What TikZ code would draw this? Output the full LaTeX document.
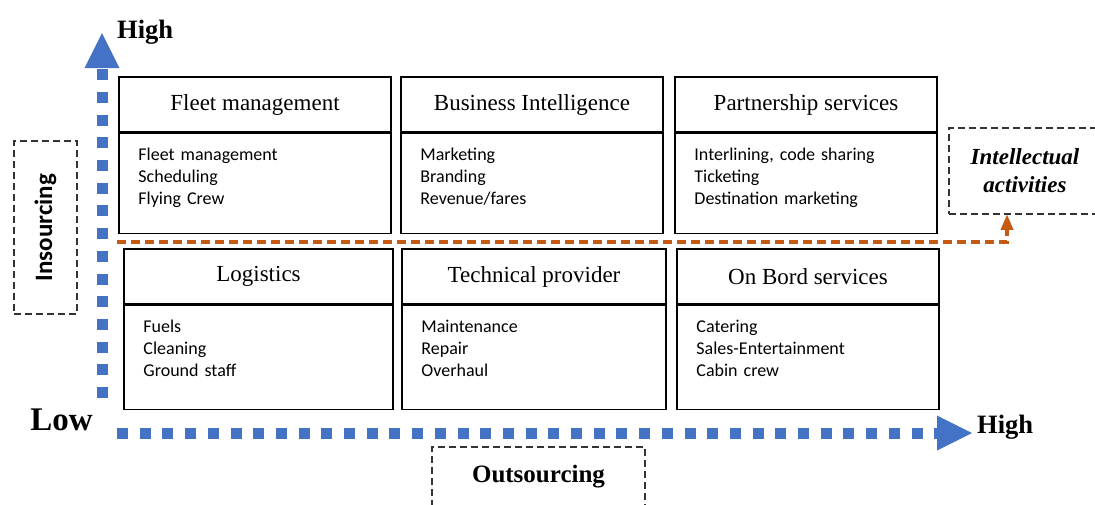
\documentclass[tikz,border=0pt]{standalone}
\usepackage{fontspec}
\usepackage{graphicx}
\setmainfont{Liberation Serif}
\newfontfamily\listfont{Carlito}
\usetikzlibrary{arrows.meta}

\definecolor{axisBlue}{HTML}{4472C4}
\definecolor{splitOrange}{HTML}{C55A11}

\newcommand{\boxLineWidth}{1.5pt}
\newcommand{\headH}{55pt}
\newcommand{\topHeadY}{104.5}
\newcommand{\botHeadY}{276.5}
\newcommand{\topBodyH}{100pt}
\newcommand{\botBodyH}{104pt}
\newcommand{\listDX}{20pt}
\newcommand{\listDY}{-28pt}

\tikzset{
    headbox/.style={draw, line width=\boxLineWidth, minimum height=\headH, inner sep=0pt, font=\fontsize{23}{27}\selectfont},
    bodybox/.style={draw, line width=\boxLineWidth, inner sep=0pt},
    listtext/.style={inner sep=0pt, text width=230pt, align=left, font=\listfont\fontsize{18}{22}\selectfont},
    scaletext/.style={inner sep=0pt, font=\bfseries\fontsize{26.5}{30}\selectfont},
    sidebox/.style={draw=black!80, line width=\boxLineWidth, dash pattern=on 7pt off 4pt, inner sep=0pt},
    axis/.style={axisBlue, line width=11pt, dash pattern=on 11pt off 11.7pt, -{Triangle[width=35pt,length=35pt,line width=0pt]}},
}

\begin{document}
\begin{tikzpicture}[x=1pt, y=-1pt]
        \useasboundingbox (0,0) rectangle (1095,504);

        % Axes
        \coordinate (vBottom) at (102,398);
        \coordinate (vTop) at (102,33);
        \coordinate (hLeft) at (117,433);
        \coordinate (hRight) at (972,433);
        \draw [axis] (vBottom) -- (vTop);
        \draw [axis] (hLeft) -- (hRight);

        % Axis labels
        \node [scaletext, anchor=base west] (yHigh) at (117,38) {High};
        \node [scaletext, anchor=base east, font=\bfseries\fontsize{33}{36}\selectfont] (xLow) at (93,430) {Low};
        \node [scaletext, anchor=base west] (xHigh) at (977,433) {High};

        % Top row
        \node [headbox, minimum width=272pt] (fleetHead) at (255,\topHeadY) {Fleet management};
        \node [bodybox, minimum width=272pt, minimum height=\topBodyH, anchor=north] (fleetBody) at (fleetHead.south) {};
        \node [listtext, anchor=base west] (fleetList) at ([xshift=\listDX, yshift=\listDY]fleetBody.north west) {Fleet management\\Scheduling\\Flying Crew};

        \node [headbox, minimum width=262pt] (bizHead) at (532,\topHeadY) {Business Intelligence};
        \node [bodybox, minimum width=262pt, minimum height=\topBodyH, anchor=north] (bizBody) at (bizHead.south) {};
        \node [listtext, anchor=base west] (bizList) at ([xshift=\listDX, yshift=\listDY]bizBody.north west) {Marketing\\Branding\\Revenue/fares};

        \node [headbox, minimum width=262pt] (partHead) at (806,\topHeadY) {Partnership services};
        \node [bodybox, minimum width=262pt, minimum height=\topBodyH, anchor=north] (partBody) at (partHead.south) {};
        \node [listtext, anchor=base west] (partList) at ([xshift=\listDX, yshift=\listDY]partBody.north west) {Interlining, code sharing\\Ticketing\\Destination marketing};

        % Bottom row
        \node [headbox, minimum width=269pt] (logHead) at (258.5,\botHeadY) {Logistics};
        \node [bodybox, minimum width=269pt, minimum height=\botBodyH, anchor=north] (logBody) at (logHead.south) {};
        \node [listtext, anchor=base west] (logList) at ([xshift=\listDX, yshift=\listDY]logBody.north west) {Fuels\\Cleaning\\Ground staff};

        \node [headbox, minimum width=264pt] (techHead) at (534,\botHeadY) {Technical provider};
        \node [bodybox, minimum width=264pt, minimum height=\botBodyH, anchor=north] (techBody) at (techHead.south) {};
        \node [listtext, anchor=base west] (techList) at ([xshift=\listDX, yshift=\listDY]techBody.north west) {Maintenance\\Repair\\Overhaul};

        \node [headbox, minimum width=262pt] (boardHead) at (808,\botHeadY) {On Bord services};
        \node [bodybox, minimum width=262pt, minimum height=\botBodyH, anchor=north] (boardBody) at (boardHead.south) {};
        \node [listtext, anchor=base west] (boardList) at ([xshift=\listDX, yshift=\listDY]boardBody.north west) {Catering\\Sales-Entertainment\\Cabin crew};

        % Dashed side boxes
        \node [sidebox, minimum width=63pt, minimum height=173pt, font=\listfont\bfseries\fontsize{25}{28}\selectfont] (insource) at (45.5,227.5) {\rotatebox{90}{Insourcing}};
        \node [sidebox, minimum width=213pt, minimum height=60pt, font=\bfseries\fontsize{25}{28}\selectfont] (outsource) at (538.5,477) {Outsourcing};
        \node [sidebox, minimum width=152pt, minimum height=86pt, align=center, font=\bfseries\itshape\fontsize{23}{28}\selectfont] (intel) at (1025,171) {Intellectual\\activities};

        % Split line
        \coordinate (splitStart) at (117,242);
        \coordinate (splitTurn) at (1007,242);
        \draw [splitOrange, line width=3.5pt, dash pattern=on 9pt off 5pt, -{Triangle[width=13pt,length=15pt,line width=0pt]}] (splitStart) -- (splitTurn) -- (splitTurn |- intel.south);
    \end{tikzpicture}
\end{document}
